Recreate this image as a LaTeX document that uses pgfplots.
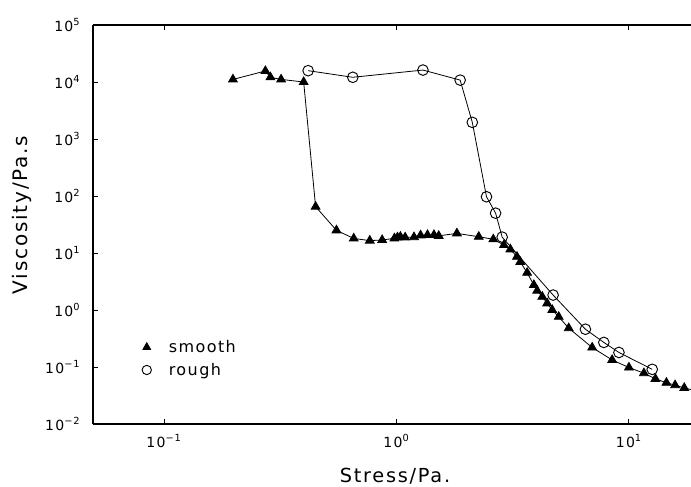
\documentclass[border=0pt]{standalone}
\usepackage{fontspec}
\setmainfont{DejaVu Sans}
\newfontfamily\lblfont[LetterSpace=9]{DejaVu Sans}
\usepackage{pgfplots}
\pgfplotsset{compat=1.18}
\begin{document}
\begin{tikzpicture}[x=0.75pt,y=0.75pt]
\useasboundingbox (-93,-62) rectangle (598,424);
\begin{axis}[
  at={(0,0)}, anchor=south west,
  scale only axis, width=448.5pt, height=299.25pt,
  xmode=log, ymode=log,
  xmin=0.0495, xmax=18.5, ymin=1e-2, ymax=1e5,
  axis x line*=box, axis y line*=left,
  axis line style={line width=0.8pt},
  tick align=inside, major tick length=4pt,
  tick style={line width=0.7pt, black},
  xminorticks=false, yminorticks=false,
  xtick={0.1,1,10},
  xticklabels={10\textsuperscript{−1},10\textsuperscript{0},10\textsuperscript{1}},
  ytick={1e-2,1e-1,1,10,100,1000,1e4,1e5},
  yticklabels={10\textsuperscript{−2},10\textsuperscript{−1},10\textsuperscript{0},10\textsuperscript{1},10\textsuperscript{2},10\textsuperscript{3},10\textsuperscript{4},10\textsuperscript{5}},
  ticklabel style={font=\lblfont\fontsize{10.5}{11}\selectfont},
  xticklabel style={yshift=-4.5pt},
  yticklabel style={xshift=-6pt},
  xlabel={Stress/Pa.},
  xlabel style={font=\lblfont\fontsize{14.5}{16}\selectfont, at={(axis description cs:0.505,0)}, anchor=base, yshift=-44pt},
  ylabel={Viscosity/Pa.s},
  ylabel style={font=\lblfont\fontsize{15}{16}\selectfont, at={(axis description cs:-0.119,0.524)}, anchor=center},
  legend style={at={(axis description cs:0.075,0.164)}, anchor=west, draw=none, fill=none,
    font=\lblfont\fontsize{12}{14}\selectfont, row sep=2.5pt,
    /tikz/every odd column/.append style={column sep=11pt}},
  legend cell align=left,
]
\addplot[forget plot, black, line width=0.6pt, mark=triangle*, mark size=3.8pt, mark options={fill=black}] coordinates {
(0.198,11100) (0.273,15600) (0.287,12100) (0.319,11100) (0.399,10000)
(0.449,65) (0.552,25) (0.655,18) (0.768,16.5) (0.868,16.9)
(0.98,18.1) (1.01,18.8) (1.04,19.3) (1.09,18.8) (1.19,19.0)
(1.27,20.4) (1.36,20.7) (1.45,20.7) (1.52,20.0) (1.82,22.1)
(2.26,19.3) (2.61,17.4) (2.90,13.8) (3.09,11.6) (3.30,8.6)
(3.41,7.0) (3.65,4.5) (3.90,2.75) (4.03,2.18) (4.24,1.71)
(4.45,1.31) (4.68,1.0) (4.99,0.76) (5.51,0.48) (6.95,0.22)
(8.47,0.133) (10.0,0.098) (11.6,0.078) (13.0,0.062) (14.5,0.053)
(15.8,0.048) (17.3,0.043) (18.6,0.040)
};
\addplot[forget plot, black, line width=0.6pt, mark=o, mark size=4pt, mark options={fill=white, line width=0.7pt}] coordinates {
(0.417,15800) (0.649,12100) (1.30,16200) (1.88,10800) (2.12,1960)
(2.44,97) (2.67,50) (2.85,19) (4.72,1.83) (6.5,0.46)
(7.8,0.27) (9.06,0.18) (12.6,0.091)
};
\addlegendimage{only marks, mark=triangle*, mark size=3.5pt, black}
\addlegendentry{smooth}
\addlegendimage{only marks, mark=o, mark size=3.5pt, black, mark options={line width=0.7pt}}
\addlegendentry{rough}
\end{axis}
\end{tikzpicture}
\end{document}
